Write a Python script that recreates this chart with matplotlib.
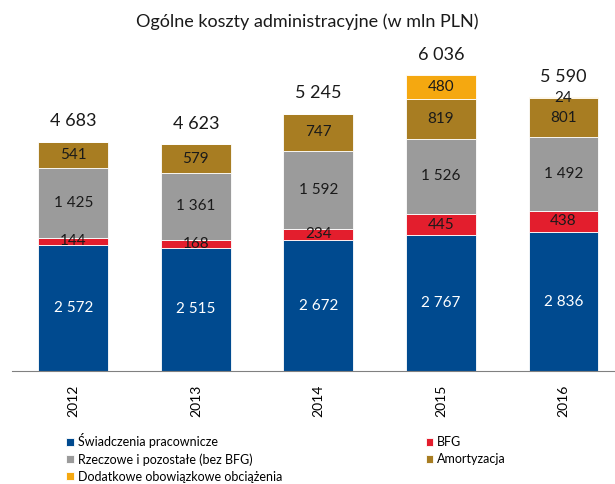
import numpy as np
import matplotlib.pyplot as plt
from matplotlib import font_manager

years = ['2012', '2013', '2014', '2015', '2016']
swiadczenia = [2572, 2515, 2672, 2767, 2836]
bfg = [144, 168, 234, 445, 438]
rzeczowe = [1425, 1361, 1592, 1526, 1492]
amortyzacja = [541, 579, 747, 819, 801]
dodatkowe = [0, 0, 0, 480, 24]
totals = ['4 683', '4 623', '5 245', '6 036', '5 590']

series = [
    ('Świadczenia pracownicze', swiadczenia, '#004a8f', 'white'),
    ('BFG', bfg, '#e31e2d', '#1a1a1a'),
    ('Rzeczowe i pozostałe (bez BFG)', rzeczowe, '#9b9b9b', '#1a1a1a'),
    ('Amortyzacja', amortyzacja, '#a87d22', '#1a1a1a'),
    ('Dodatkowe obowiązkowe obciążenia', dodatkowe, '#f5a810', '#1a1a1a'),
]

plt.rcParams['font.family'] = ['Lato', 'DejaVu Sans']

def fmt(v):
    return f'{v:,}'.replace(',', ' ')

fig = plt.figure(figsize=(6.15, 4.84), dpi=100)
ax = fig.add_axes([12 / 615, 113 / 484, 603 / 615, 343 / 484])

x = np.arange(len(years))
bottom = np.zeros(len(years))
handles = {}
for name, vals, color, tcol in series:
    vals = np.array(vals, dtype=float)
    b = ax.bar(x, vals, 0.57, bottom=bottom, color=color, edgecolor='white', linewidth=0.6)
    handles[name] = b
    for xi, v, bt in zip(x, vals, bottom):
        if v > 0:
            ax.text(xi, bt + v / 2, fmt(int(v)), ha='center', va='center',
                    fontsize=11, color=tcol)
    bottom += vals

for xi, top, t in zip(x, bottom, totals):
    ax.annotate(t, (xi, top), xytext=(0, 9), textcoords='offset points',
                ha='center', va='bottom', fontsize=13, color='#1a1a1a')

ax.set_xlim(-0.5, 4.42)
ax.set_ylim(0, 7000)
ax.set_xticks(x)
ax.set_xticklabels(years, rotation=90, fontsize=10)
ax.tick_params(axis='x', length=0, pad=10)
ax.set_yticks([])
for s in ['top', 'right', 'left']:
    ax.spines[s].set_visible(False)
ax.spines['bottom'].set_color('#808080')

fig.text(0.5, 0.955, 'Ogólne koszty administracyjne (w mln PLN)', ha='center',
         va='center', fontsize=13, color='#1a1a1a')

order = ['Świadczenia pracownicze', 'Rzeczowe i pozostałe (bez BFG)',
         'Dodatkowe obowiązkowe obciążenia', 'BFG', 'Amortyzacja']
fig.legend([handles[n] for n in order], order, ncol=2, loc='upper left',
           bbox_to_anchor=(55 / 615, 1 - 422 / 484), frameon=False, fontsize=9,
           handlelength=0.6, handleheight=0.6, handletextpad=0.3,
           columnspacing=11.5, labelspacing=0.4)

fig.savefig('out.png', dpi=100)
